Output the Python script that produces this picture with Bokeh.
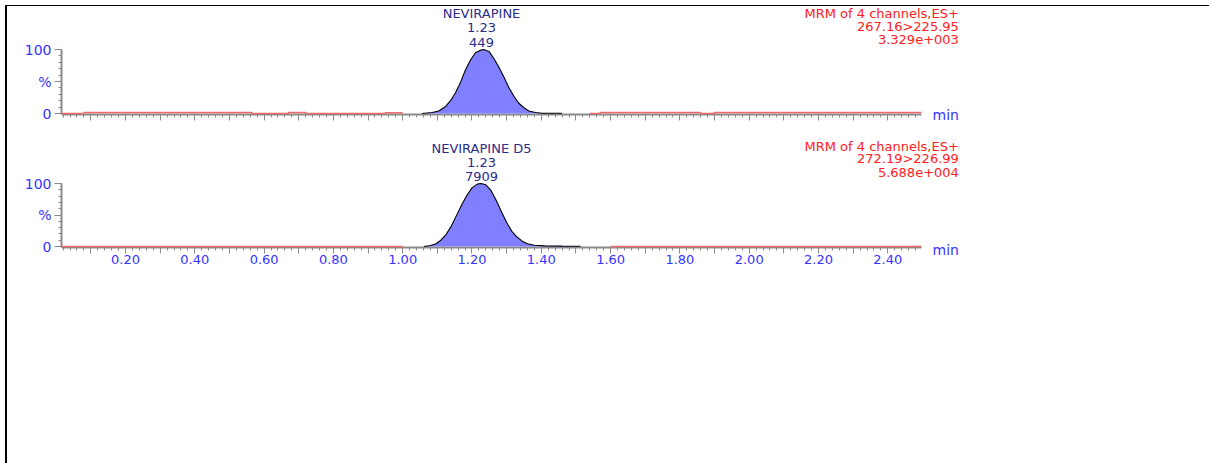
from bokeh.plotting import figure
from bokeh.models import FixedTicker, Label, LinearAxis
from bokeh.layouts import column
from bokeh.embed import file_html
from bokeh.resources import INLINE

# ---------------- data ----------------
# Panel 1: NEVIRAPINE (267.16>225.95)
peak1_t = [1.056, 1.085, 1.104, 1.124, 1.138, 1.152, 1.167, 1.181, 1.196, 1.210,
           1.225, 1.234, 1.249, 1.263, 1.277, 1.292, 1.306, 1.321, 1.335, 1.350,
           1.364, 1.383, 1.403, 1.460]
peak1_i = [0, 1.6, 4, 11, 20, 32, 49, 68, 84, 95,
           99, 100, 97, 86, 73, 57, 41, 27, 16, 9,
           4, 1.6, 0.5, 0.3]
base1a_t = [0.015, 0.08, 0.08, 0.565, 0.565, 0.67, 0.67, 0.72, 0.72, 0.95, 0.95, 1.0]
base1a_i = [0, 0, 1.5, 1.5, 0, 0, 1.5, 1.5, 0, 0, 1.2, 1.2]
base1b_t = [1.54, 1.57, 1.57, 1.86, 1.86, 1.90, 1.90, 2.497]
base1b_i = [0, 0, 1.5, 1.5, 0, 0, 1.5, 1.5]

# Panel 2: NEVIRAPINE D5 (272.19>226.99)
peak2_t = [1.061, 1.080, 1.095, 1.110, 1.125, 1.140, 1.155, 1.170, 1.185, 1.200,
           1.215, 1.226, 1.240, 1.255, 1.270, 1.285, 1.300, 1.315, 1.330, 1.345,
           1.360, 1.380, 1.410, 1.460, 1.513]
peak2_i = [0, 1.5, 4, 10, 19, 32, 49, 66, 81, 93,
           99, 100, 98, 89, 73, 55, 38, 24, 15, 8.5,
           4.5, 2, 1, 0.6, 0.5]
base2a_t = [0.015, 1.0]
base2a_i = [0, 0]
base2b_t = [1.60, 2.497]
base2b_i = [0, 0]

names = ["NEVIRAPINE", "NEVIRAPINE D5"]
rts = ["1.23", "1.23"]
areas = ["449", "7909"]
mrm = ["MRM of 4 channels,ES+", "MRM of 4 channels,ES+"]
transitions = ["267.16>225.95", "272.19>226.99"]
intensities = ["3.329e+003", "5.688e+004"]
rt_values = [1.2274, 1.2274]

x_ticks_major = [round(0.1 * i, 2) for i in range(1, 25)]
x_ticks_minor = [round(0.02 * i, 2) for i in range(1, 125)]
x_labels = {t: (f"{t:.2f}" if round(t * 10) % 2 == 0 else "") for t in x_ticks_major}
y_ticks = [0, 50, 100]
y_labels = {0: "0", 50: "%", 100: "100"}

# ---------------- style ----------------
FONT = "DejaVu Sans"
BLUE = "#3434ff"
NAVY = "#2b2b8c"
RED = "#ff2020"
RED_LINE = "#ee6a6a"
FILL = "#7f7fff"
GRAY = "#8a8a8a"

X0 = 0.0153
X1 = X0 + 1148 / 346.5
AXIS_Y = -1.2


def panel(height, ystart, yend, bottom_border, show_labels,
          pk_t, pk_i, ba_t, ba_i, bb_t, bb_i):
    p = figure(width=1202, height=height, x_range=(X0, X1), y_range=(ystart, yend),
               output_backend="svg", toolbar_location=None, x_axis_location=None,
               min_border_left=54, min_border_right=0, min_border_top=0,
               min_border_bottom=bottom_border)
    p.outline_line_color = None
    p.grid.visible = False

    ya = p.yaxis[0]
    ya.ticker = FixedTicker(ticks=y_ticks, minor_ticks=list(range(0, 101, 10)))
    ya.major_label_overrides = y_labels
    ya.bounds = (AXIS_Y, 100)
    ya.axis_line_color = GRAY
    ya.axis_line_width = 2
    ya.major_tick_line_color = GRAY
    ya.minor_tick_line_color = GRAY
    ya.major_tick_out = 7
    ya.major_tick_in = 0
    ya.minor_tick_out = 3
    ya.minor_tick_in = 0
    ya.major_label_text_color = BLUE
    ya.major_label_text_font = FONT
    ya.major_label_text_font_size = "14px"
    ya.major_label_standoff = 3

    xa = LinearAxis(fixed_location=AXIS_Y)
    xa.ticker = FixedTicker(ticks=x_ticks_major, minor_ticks=x_ticks_minor)
    xa.bounds = (X0, 2.497)
    xa.axis_line_color = GRAY
    xa.axis_line_width = 2
    xa.major_tick_line_color = GRAY
    xa.minor_tick_line_color = GRAY
    xa.major_tick_out = 6
    xa.major_tick_in = 0
    xa.minor_tick_out = 3
    xa.minor_tick_in = 0
    xa.major_label_text_color = BLUE
    xa.major_label_text_font = FONT
    xa.major_label_text_font_size = "13px"
    xa.major_label_standoff = 2
    if show_labels:
        xa.major_label_overrides = x_labels
    else:
        xa.major_label_overrides = {t: "" for t in x_ticks_major}
    p.add_layout(xa, "below")

    p.varea(x=pk_t, y1=[0] * len(pk_t), y2=pk_i, fill_color=FILL, level="overlay")
    p.line(pk_t, pk_i, line_color="black", line_width=1.1, level="overlay")
    p.line(ba_t, ba_i, line_color=RED_LINE, line_width=1.5, level="overlay")
    p.line(bb_t, bb_i, line_color=RED_LINE, line_width=1.5, level="overlay")
    return p


# panel 1: 0.64 px per %, frame 120 px; panel 2: 0.63 px per %, frame 137 px
p1 = panel(132, -13 / 0.64, 107 / 0.64, 12, False,
           peak1_t, peak1_i, base1a_t, base1a_i, base1b_t, base1b_i)
p2 = panel(325, -29 / 0.63, 108 / 0.63, 188, True,
           peak2_t, peak2_i, base2a_t, base2a_i, base2b_t, base2b_i)


def add_texts(p, i, ys_peak, ys_red, y_min):
    for txt, yy in zip([names[i], rts[i], areas[i]], ys_peak):
        p.add_layout(Label(x=rt_values[i], y=yy, text=txt, text_align="center",
                           text_baseline="middle", text_color=NAVY,
                           text_font=FONT, text_font_size="13px"))
    for txt, yy in zip([mrm[i], transitions[i], intensities[i]], ys_red):
        p.add_layout(Label(x=2.605, y=yy, text=txt, text_align="right",
                           text_baseline="middle", text_color=RED,
                           text_font=FONT, text_font_size="13px"))
    p.add_layout(Label(x=2.529, y=y_min, text="min", text_align="left",
                       text_baseline="middle", text_color=BLUE,
                       text_font=FONT, text_font_size="14px"))


add_texts(p1, 0, [155.5, 133.6, 111.7], [156.3, 136.7, 115.6], -3.1)
add_texts(p2, 1, [156.3, 134.1, 111.9], [159.5, 138.9, 116.7], -4.8)

layout = column(p1, p2, spacing=0, margin=(5, 0, 0, 5),
                styles={"border-top": "1px solid black", "border-left": "2px solid black"})

open("out.html", "w").write(file_html(layout, INLINE))
